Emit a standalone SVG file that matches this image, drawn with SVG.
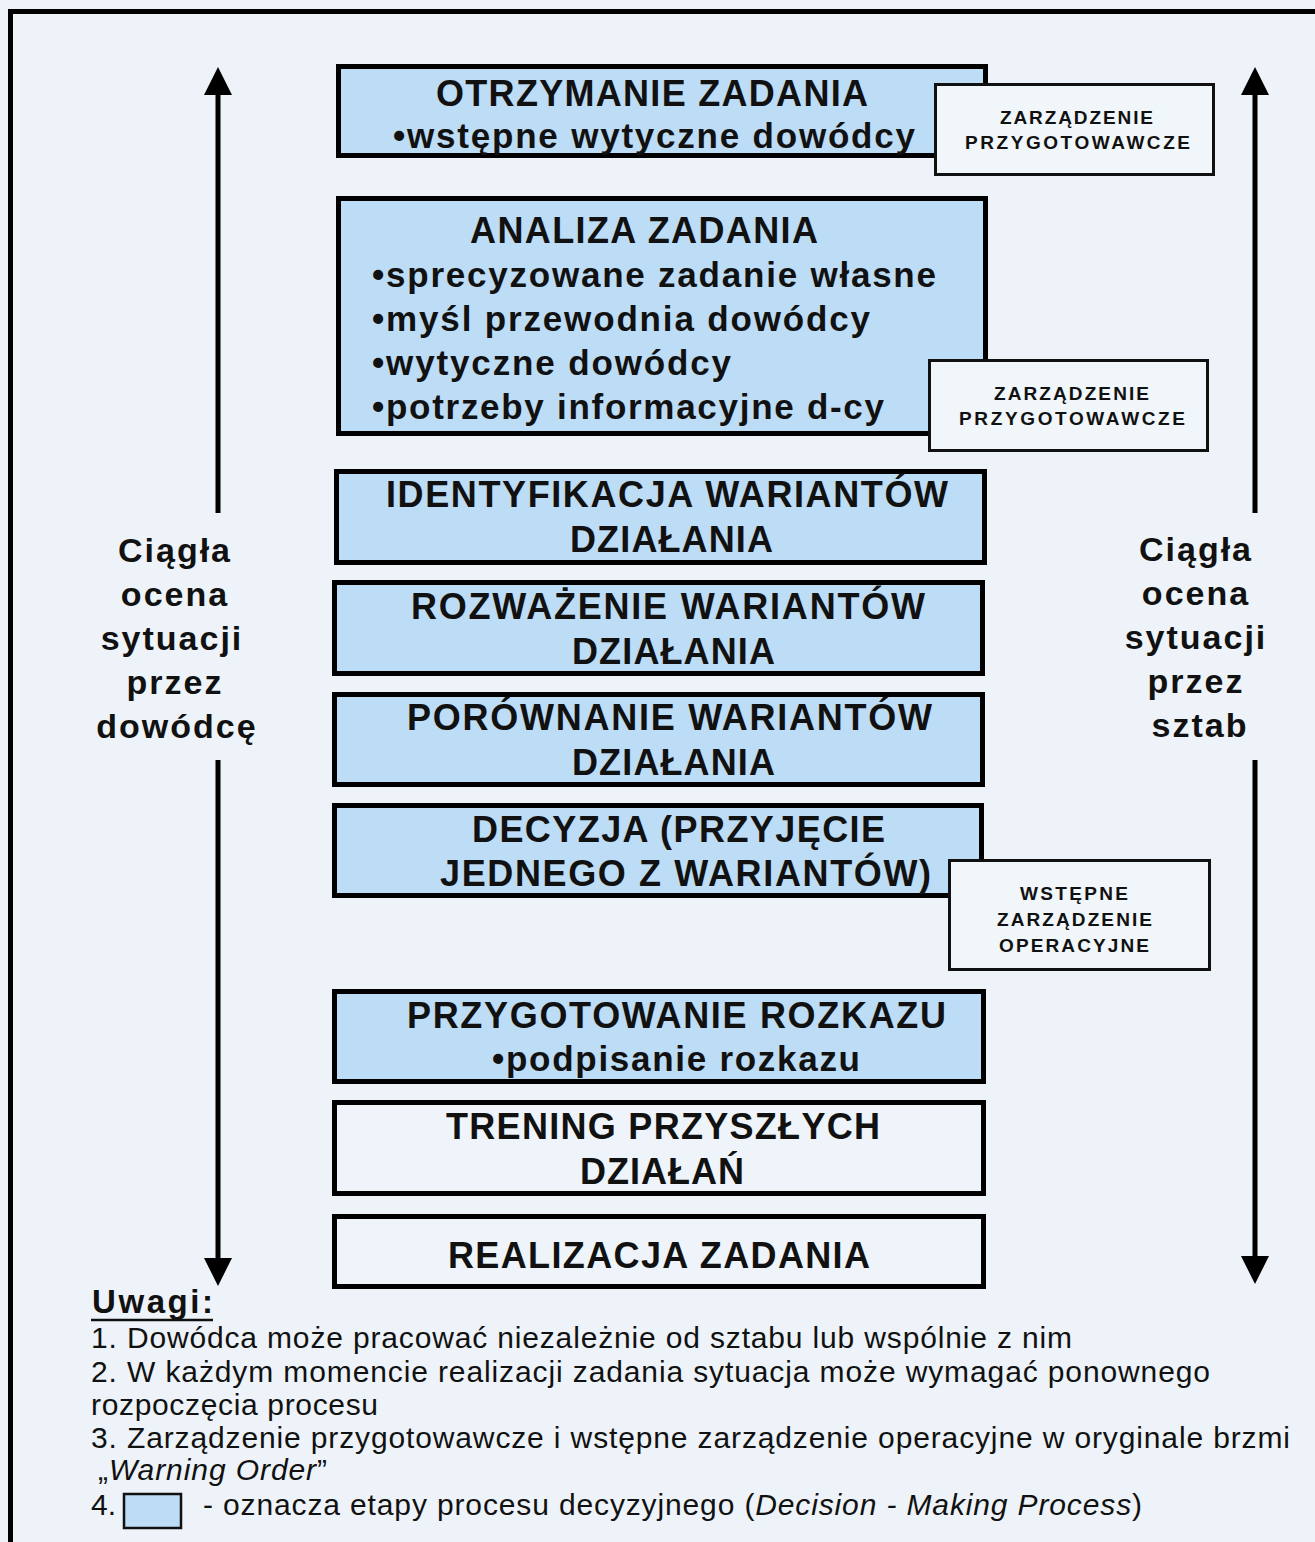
<svg xmlns="http://www.w3.org/2000/svg" width="1315" height="1542" viewBox="0 0 1315 1542">
  <defs>
    <style>
      .stage { fill: #bddcf5; stroke: #000; stroke-width: 5; }
      .plain { fill: #eef4f9; stroke: #000; stroke-width: 5; }
      .note { fill: #f0f6fa; stroke: #111; stroke-width: 3; }
      .h { font-family: "Liberation Sans", Arial, sans-serif; font-weight: bold; font-size: 36px; fill: #111; }
      .b { font-family: "Liberation Sans", Arial, sans-serif; font-weight: bold; font-size: 35px; fill: #111; }
      .side { font-family: "Liberation Sans", Arial, sans-serif; font-weight: bold; font-size: 34px; fill: #111; letter-spacing: 2px; text-anchor: middle; }
      .n { font-family: "Liberation Sans", Arial, sans-serif; font-weight: bold; font-size: 19px; fill: #111; }
      .r { font-family: "Liberation Sans", Arial, sans-serif; font-size: 30px; fill: #111; }
      .arrow { stroke: #000; stroke-width: 5; fill: none; marker-end: url(#head); }
    </style>
    <marker id="head" viewBox="0 -14 28 28" refX="0" refY="0" markerUnits="userSpaceOnUse" markerWidth="28" markerHeight="28" orient="auto">
      <path d="M0,-14 L28,0 L0,14 Z" fill="#000"/>
    </marker>
  </defs>

  <!-- page background and frame -->
  <rect x="0" y="0" width="1315" height="1542" fill="#edf3f8"/>
  <path d="M10.5,1542 V11.5 H1315" fill="none" stroke="#000" stroke-width="5"/>

  <!-- vertical assessment arrows -->
  <g id="connectors">
    <line class="arrow" x1="218" y1="513" x2="218" y2="95"/>
    <line class="arrow" x1="218" y1="760" x2="218" y2="1258"/>
    <line class="arrow" x1="1255" y1="513" x2="1255" y2="95"/>
    <line class="arrow" x1="1255" y1="760" x2="1255" y2="1256"/>
  </g>

  <!-- side labels -->
  <g id="label-commander">
    <text class="side" x="175" y="562">Ciągła</text>
    <text class="side" x="175" y="606">ocena</text>
    <text class="side" x="172" y="650">sytuacji</text>
    <text class="side" x="175" y="694">przez</text>
    <text class="side" x="177" y="738">dowódcę</text>
  </g>
  <g id="label-staff">
    <text class="side" x="1196" y="561">Ciągła</text>
    <text class="side" x="1196" y="605">ocena</text>
    <text class="side" x="1196" y="649">sytuacji</text>
    <text class="side" x="1196" y="693">przez</text>
    <text class="side" x="1200" y="737">sztab</text>
  </g>

  <!-- process steps -->
  <g id="step-otrzymanie">
    <rect class="stage" x="338.5" y="66.5" width="647" height="89"/>
    <text class="h" x="436" y="106" textLength="432" lengthAdjust="spacing">OTRZYMANIE ZADANIA</text>
    <text class="b" x="393" y="148" textLength="522" lengthAdjust="spacing">•wstępne wytyczne dowódcy</text>
  </g>
  <g id="note-1">
    <rect class="note" x="935.5" y="84.5" width="278" height="90"/>
    <text class="n" x="1000" y="124" textLength="153" lengthAdjust="spacing">ZARZĄDZENIE</text>
    <text class="n" x="965" y="149" textLength="225" lengthAdjust="spacing">PRZYGOTOWAWCZE</text>
  </g>

  <g id="step-analiza">
    <rect class="stage" x="338.5" y="198.5" width="647" height="235"/>
    <text class="h" x="470" y="243" textLength="348" lengthAdjust="spacing">ANALIZA ZADANIA</text>
    <text class="b" x="372" y="287" textLength="564" lengthAdjust="spacing">•sprecyzowane zadanie własne</text>
    <text class="b" x="372" y="331" textLength="498" lengthAdjust="spacing">•myśl przewodnia dowódcy</text>
    <text class="b" x="372" y="375" textLength="359" lengthAdjust="spacing">•wytyczne dowódcy</text>
    <text class="b" x="372" y="419" textLength="512" lengthAdjust="spacing">•potrzeby informacyjne d-cy</text>
  </g>
  <g id="note-2">
    <rect class="note" x="929.5" y="360.5" width="278" height="90"/>
    <text class="n" x="994" y="400" textLength="155" lengthAdjust="spacing">ZARZĄDZENIE</text>
    <text class="n" x="959" y="425" textLength="226" lengthAdjust="spacing">PRZYGOTOWAWCZE</text>
  </g>

  <g id="step-identyfikacja">
    <rect class="stage" x="336.5" y="471.5" width="648" height="91"/>
    <text class="h" x="386" y="507" textLength="562" lengthAdjust="spacing">IDENTYFIKACJA WARIANTÓW</text>
    <text class="h" x="570" y="552" textLength="203" lengthAdjust="spacing">DZIAŁANIA</text>
  </g>

  <g id="step-rozwazenie">
    <rect class="stage" x="334.5" y="582.5" width="648" height="91"/>
    <text class="h" x="411" y="619" textLength="514" lengthAdjust="spacing">ROZWAŻENIE WARIANTÓW</text>
    <text class="h" x="572" y="664" textLength="203" lengthAdjust="spacing">DZIAŁANIA</text>
  </g>

  <g id="step-porownanie">
    <rect class="stage" x="334.5" y="694.5" width="648" height="90"/>
    <text class="h" x="407" y="730" textLength="525" lengthAdjust="spacing">PORÓWNANIE WARIANTÓW</text>
    <text class="h" x="572" y="775" textLength="203" lengthAdjust="spacing">DZIAŁANIA</text>
  </g>

  <g id="step-decyzja">
    <rect class="stage" x="334.5" y="805.5" width="647" height="90"/>
    <text class="h" x="472" y="842" textLength="413" lengthAdjust="spacing">DECYZJA (PRZYJĘCIE</text>
    <text class="h" x="440" y="886" textLength="491" lengthAdjust="spacing">JEDNEGO Z WARIANTÓW)</text>
  </g>
  <g id="note-3">
    <rect class="note" x="949.5" y="860.5" width="260" height="109"/>
    <text class="n" x="1020" y="900" textLength="108" lengthAdjust="spacing">WSTĘPNE</text>
    <text class="n" x="997" y="926" textLength="155" lengthAdjust="spacing">ZARZĄDZENIE</text>
    <text class="n" x="999" y="952" textLength="150" lengthAdjust="spacing">OPERACYJNE</text>
  </g>

  <g id="step-rozkaz">
    <rect class="stage" x="334.5" y="991.5" width="649" height="90"/>
    <text class="h" x="407" y="1028" textLength="539" lengthAdjust="spacing">PRZYGOTOWANIE ROZKAZU</text>
    <text class="b" x="492" y="1071" textLength="368" lengthAdjust="spacing">•podpisanie rozkazu</text>
  </g>

  <g id="step-trening">
    <rect class="plain" x="334.5" y="1102.5" width="649" height="91"/>
    <text class="h" x="446" y="1139" textLength="434" lengthAdjust="spacing">TRENING PRZYSZŁYCH</text>
    <text class="h" x="580" y="1184" textLength="164" lengthAdjust="spacing">DZIAŁAŃ</text>
  </g>

  <g id="step-realizacja">
    <rect class="plain" x="334.5" y="1216.5" width="649" height="70"/>
    <text class="h" x="448" y="1268" textLength="422" lengthAdjust="spacing">REALIZACJA ZADANIA</text>
  </g>

  <!-- remarks -->
  <g id="remarks">
    <text x="92" y="1313" font-family="Liberation Sans, Arial, sans-serif" font-weight="bold" font-size="33" fill="#111" textLength="121" lengthAdjust="spacing">Uwagi:</text>
    <line x1="91" y1="1320" x2="213" y2="1320" stroke="#111" stroke-width="2.5"/>
    <text class="r" x="91" y="1348" textLength="981" lengthAdjust="spacing">1. Dowódca może pracować niezależnie od sztabu lub wspólnie z nim</text>
    <text class="r" x="91" y="1382" textLength="1119" lengthAdjust="spacing">2. W każdym momencie realizacji zadania sytuacja może wymagać ponownego</text>
    <text class="r" x="91" y="1415" textLength="287" lengthAdjust="spacing">rozpoczęcia procesu</text>
    <text class="r" x="91" y="1448" textLength="1199" lengthAdjust="spacing">3. Zarządzenie przygotowawcze i wstępne zarządzenie operacyjne w oryginale brzmi</text>
    <text class="r" x="98" y="1480" textLength="229" lengthAdjust="spacing">„<tspan font-style="italic">Warning Order</tspan>”</text>
    <text class="r" x="91" y="1515">4.</text>
    <rect x="124" y="1494" width="57" height="34" fill="#bddcf5" stroke="#111" stroke-width="2.5"/>
    <text class="r" x="203" y="1515" textLength="939" lengthAdjust="spacing">- oznacza etapy procesu decyzyjnego (<tspan font-style="italic">Decision - Making Process</tspan>)</text>
  </g>
</svg>
